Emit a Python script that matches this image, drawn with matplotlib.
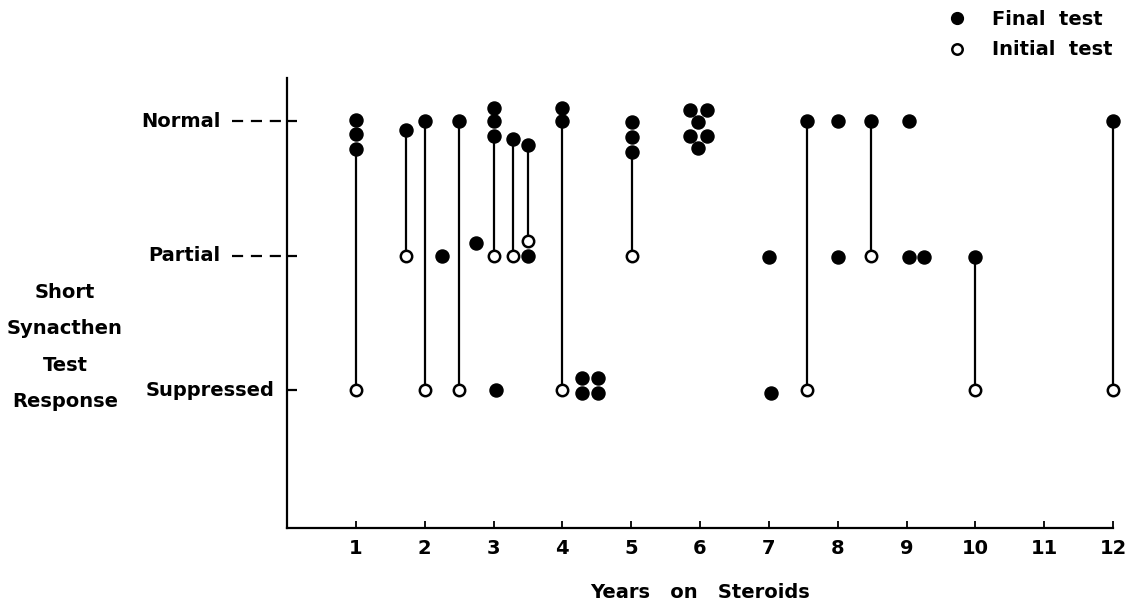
import matplotlib
matplotlib.use("Agg")
import matplotlib.pyplot as plt
import matplotlib.transforms as mtransforms
from matplotlib.lines import Line2D

# response levels: 0 = Suppressed, 1 = Partial, 2 = Normal
levels = [0, 1, 2]
level_names = ["Suppressed", "Partial", "Normal"]
years = list(range(1, 13))

# final test (filled dots), stacked dots are offset slightly from the level
final_x = [1, 1, 1, 1.73, 2, 2.25, 2.5, 2.75, 3, 3, 3, 3.04, 3.28, 3.5, 3.5,
           4, 4, 4.29, 4.52, 4.29, 4.52, 5.01, 5.01, 5.01,
           5.86, 6.10, 5.97, 5.86, 6.10, 5.97, 7.0, 7.03, 7.56, 8.0, 8.0,
           8.49, 9.03, 9.03, 9.26, 10.0, 12.0]
final_y = [2.01, 1.90, 1.79, 1.93, 2.0, 1.0, 2.0, 1.09, 2.10, 2.0, 1.89, 0.0, 1.87, 1.82, 1.0,
           2.10, 2.0, 0.09, 0.09, -0.02, -0.02, 1.99, 1.88, 1.77,
           2.08, 2.08, 1.99, 1.89, 1.89, 1.80, 0.99, -0.02, 2.0, 2.0, 0.99,
           2.0, 2.0, 0.99, 0.99, 0.99, 2.0]

# initial test (open circles)
initial_x = [1, 1.73, 2, 2.5, 3, 3.28, 3.5, 4, 5.01, 7.56, 8.49, 10.0, 12.0]
initial_y = [0, 1, 0, 0, 1, 1, 1.11, 0, 1, 0, 1, 0, 0]

# joins between the initial and final result of the same patient
link_x = [1, 1.73, 2, 2.5, 3, 3.28, 3.5, 4, 5.01, 7.56, 8.49, 10.0, 12.0]
link_top = [1.79, 1.93, 2.0, 2.0, 1.89, 1.87, 1.82, 2.0, 1.77, 2.0, 2.0, 0.99, 2.0]
link_bottom = [0, 1, 0, 0, 1, 1, 1.11, 0, 1, 0, 1, 0, 0]

plt.rcParams['font.family'] = ['DejaVu Sans']
plt.rcParams['font.weight'] = 'bold'
plt.rcParams['axes.labelweight'] = 'bold'
fs = 14

fig = plt.figure(figsize=(11.26, 6.05), dpi=100)
ax = fig.add_axes([287 / 1126, 1 - 528 / 605, 826 / 1126, 450 / 605])

ax.vlines(link_x, link_bottom, link_top, color='black', lw=1.6, zorder=1,
          clip_on=False)
ax.plot(final_x, final_y, 'o', color='black', ms=9.4, ls='none', zorder=3,
        clip_on=False)
ax.plot(initial_x, initial_y, 'o', mfc='white', mec='black', mew=1.8, ms=8.2,
        ls='none', zorder=3, clip_on=False)

ax.set_xlim(0, 12)
ax.set_ylim(-1.026, 2.32)

for s in ['top', 'right']:
    ax.spines[s].set_visible(False)
for s in ['left', 'bottom']:
    ax.spines[s].set_linewidth(1.6)

ax.set_xticks(years)
ax.set_xticklabels([str(y) for y in years], fontsize=fs)
ax.tick_params(axis='x', direction='in', length=5, width=1.3, pad=8)
ax.set_yticks(levels)
ax.set_yticklabels([])
ax.tick_params(axis='y', direction='in', length=7, width=1.6)

# level names, with dashed leaders for Normal and Partial
trans = mtransforms.blended_transform_factory(ax.transAxes, ax.transData)
for lvl, name in zip(levels, level_names):
    if name == "Suppressed":
        ax.annotate(name, xy=(0, lvl), xycoords=trans, xytext=(-9, 0),
                    textcoords='offset points', ha='right', va='center', fontsize=fs)
    else:
        ax.annotate(name, xy=(0, lvl), xycoords=trans, xytext=(-48, 0),
                    textcoords='offset points', ha='right', va='center', fontsize=fs)
        ax.plot([-55 / 826, 0], [lvl, lvl], transform=trans, color='black',
                lw=1.6, dashes=(5, 3.5), clip_on=False)

ax.set_xlabel("Years   on   Steroids", fontsize=fs, labelpad=18)

fig.text(65 / 1126, 1 - 347 / 605, "Short\nSynacthen\nTest\nResponse",
         ha='center', va='center', multialignment='center', fontsize=fs,
         linespacing=2.15)

handles = [Line2D([], [], marker='o', ls='none', color='black', ms=8.5),
           Line2D([], [], marker='o', ls='none', mfc='white', mec='black',
                  mew=1.8, ms=7.5)]
fig.legend(handles, ["Final  test", "Initial  test"], loc='upper right',
           bbox_to_anchor=(1122 / 1126, 1.0), frameon=False, fontsize=fs,
           handletextpad=0.8, labelspacing=0.6, borderaxespad=0.1)

fig.savefig("out.png", dpi=100)
